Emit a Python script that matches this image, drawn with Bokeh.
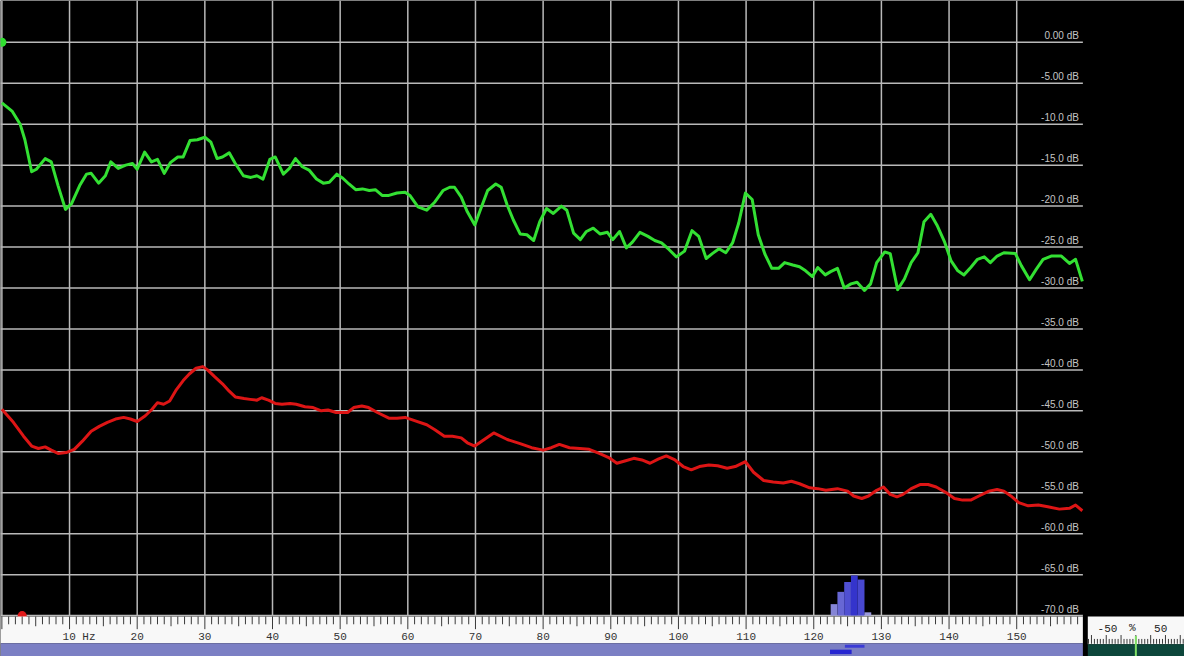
from bokeh.plotting import figure
from bokeh.models import Range1d
from bokeh.core.properties import value
from bokeh.embed import file_html
from bokeh.resources import INLINE

# ---------------- data ----------------
green_hz = [0.0, 1.5, 2.7, 3.4, 4.4, 5.1, 6.4, 7.3, 8.3, 9.4, 10.3, 11.5, 12.5, 13.2, 14.3, 15.3,
            16.1, 17.2, 18.3, 19.3, 20.0, 21.1, 22.1, 23.0, 24.0, 24.9, 26.0, 26.8, 27.8, 28.9,
            30.0, 30.9, 31.8, 32.6, 33.6, 34.5, 35.7, 36.8, 37.7, 38.6, 39.6, 40.4, 41.6, 42.5,
            43.4, 44.4, 45.4, 46.5, 47.5, 48.4, 49.5, 50.4, 51.3, 52.3, 53.3, 54.3, 55.2, 56.2,
            57.2, 58.4, 59.6, 60.3, 61.5, 62.8, 64.0, 65.2, 66.2, 66.9, 67.9, 68.8, 69.9, 70.8,
            71.8, 73.0, 73.8, 74.7, 75.6, 76.6, 77.6, 78.6, 79.5, 80.5, 81.5, 82.7, 83.5, 84.5,
            85.5, 86.4, 87.4, 88.4, 89.5, 90.3, 91.3, 92.3, 93.2, 94.3, 95.5, 96.5, 97.5, 98.6,
            99.7, 100.9, 102.0, 103.0, 104.1, 105.0, 106.0, 107.0, 108.0, 108.9, 109.9, 110.9,
            111.8, 112.8, 113.8, 114.8, 115.7, 116.9, 117.9, 118.8, 119.8, 120.6, 121.7, 122.5,
            123.5, 124.5, 125.5, 126.4, 127.5, 128.4, 129.3, 130.5, 131.3, 132.4, 133.4, 134.4,
            135.4, 136.3, 137.3, 138.2, 139.3, 140.3, 141.3, 142.2, 143.2, 144.2, 145.2, 146.1,
            147.1, 148.1, 149.8, 150.7, 151.9, 152.9, 153.9, 155.1, 156.6, 157.8, 158.7, 159.7]
green_db = [-7.4, -8.4, -10.0, -11.9, -15.8, -15.5, -14.2, -14.6, -17.5, -20.4, -19.7, -17.5, -16.1,
            -16.0, -17.2, -16.3, -14.6, -15.4, -15.0, -14.8, -15.5, -13.4, -14.6, -14.3, -16.0,
            -14.7, -14.0, -14.0, -12.0, -11.9, -11.6, -12.2, -14.2, -14.0, -13.5, -14.8, -16.3,
            -16.5, -16.3, -16.7, -14.3, -14.0, -16.1, -15.4, -14.2, -15.2, -15.6, -16.7, -17.2,
            -17.1, -16.1, -16.6, -17.3, -18.0, -17.9, -18.1, -18.0, -18.7, -18.7, -18.4, -18.3,
            -18.7, -20.1, -20.5, -19.5, -18.1, -17.7, -17.7, -18.9, -20.7, -22.3, -20.3, -18.1,
            -17.3, -17.7, -19.9, -21.7, -23.4, -23.5, -24.2, -21.9, -20.3, -20.9, -20.0, -20.5,
            -23.3, -24.1, -23.1, -22.7, -23.4, -23.2, -24.1, -23.1, -25.1, -24.4, -23.2, -23.7,
            -24.2, -24.5, -25.3, -26.2, -25.5, -23.0, -23.7, -26.4, -25.8, -25.2, -25.7, -24.5,
            -22.1, -18.4, -19.2, -23.5, -25.9, -27.6, -27.6, -26.9, -27.2, -27.4, -27.9, -28.6,
            -27.5, -28.4, -28.0, -27.6, -30.0, -29.5, -29.3, -30.3, -29.5, -26.9, -25.6, -25.8,
            -30.2, -28.9, -26.9, -25.7, -21.9, -21.0, -22.3, -24.3, -26.7, -27.9, -28.4, -27.5,
            -26.5, -26.2, -26.9, -26.1, -25.7, -25.8, -27.3, -29.0, -27.7, -26.5, -26.1, -26.1,
            -27.0, -26.5, -29.2]

red_hz = [0.0, 1.7, 3.2, 4.4, 5.4, 6.4, 7.3, 8.3, 9.5, 10.7, 11.9, 13.2, 14.4, 15.6, 16.8, 18.0,
          19.0, 20.0, 21.2, 22.2, 23.0, 23.9, 24.8, 25.8, 26.8, 27.7, 28.7, 29.7, 30.4, 31.4,
          32.6, 33.6, 34.5, 35.8, 36.7, 37.7, 38.4, 39.4, 40.4, 41.4, 42.6, 43.5, 44.8, 46.0,
          47.2, 48.2, 49.4, 51.1, 52.0, 53.2, 54.2, 55.5, 57.2, 58.4, 59.6, 61.0, 62.8, 64.0,
          65.4, 66.6, 67.9, 68.8, 69.9, 71.3, 72.7, 74.7, 76.6, 78.3, 80.0, 81.2, 82.4, 83.9,
          85.4, 86.8, 88.3, 89.7, 90.9, 92.2, 93.4, 94.6, 95.8, 97.0, 98.2, 99.5, 100.7, 101.9,
          103.1, 104.5, 105.8, 107.2, 108.4, 109.9, 111.1, 112.6, 114.0, 115.5, 116.7, 117.9,
          119.4, 120.6, 121.8, 123.5, 125.0, 125.9, 127.1, 128.1, 129.3, 130.3, 131.3, 132.3,
          133.2, 134.4, 135.7, 136.9, 138.1, 139.6, 140.8, 142.0, 143.2, 144.4, 145.9, 147.1,
          148.1, 149.3, 150.3, 151.7, 153.2, 154.6, 156.3, 157.8, 158.7, 159.7]
red_db = [-44.8, -46.4, -48.1, -49.3, -49.6, -49.4, -49.8, -50.2, -50.1, -49.7, -48.7, -47.5, -46.9,
          -46.4, -46.0, -45.8, -46.0, -46.3, -45.6, -44.8, -44.0, -44.2, -43.8, -42.4, -41.3,
          -40.5, -39.8, -39.6, -40.0, -40.8, -41.7, -42.6, -43.3, -43.5, -43.6, -43.7, -43.4,
          -43.7, -44.1, -44.2, -44.1, -44.2, -44.5, -44.6, -45.0, -44.9, -45.2, -45.2, -44.6,
          -44.4, -44.6, -45.2, -45.9, -45.9, -45.8, -46.2, -46.7, -47.3, -48.1, -48.1, -48.3,
          -48.9, -49.3, -48.5, -47.7, -48.5, -49.0, -49.5, -49.8, -49.5, -49.1, -49.5, -49.6,
          -49.7, -50.2, -50.7, -51.4, -51.1, -50.8, -51.0, -51.4, -50.9, -50.5, -51.0, -51.8,
          -52.2, -51.8, -51.6, -51.7, -52.0, -51.8, -51.2, -52.5, -53.5, -53.7, -53.8, -53.6,
          -53.9, -54.4, -54.5, -54.7, -54.5, -54.8, -55.4, -55.7, -55.4, -54.7, -54.3, -55.2,
          -55.5, -55.2, -54.5, -54.0, -54.0, -54.3, -55.0, -55.7, -55.9, -55.9, -55.4, -54.8,
          -54.6, -54.8, -55.5, -56.2, -56.6, -56.5, -56.7, -57.0, -56.9, -56.5, -57.2]

# histogram bars (peak-hold style) near 125 Hz
bar_hz = [123, 124, 125, 126, 127, 128]
bar_top_db = [-68.6, -67.1, -65.9, -65.1, -65.6, -69.6]
bar_colors = ["#8585d6", "#6767d4", "#5050d2", "#3434cc", "#4848d0", "#9a9ade"]

# markers
green_marker = ([0.0], [0.0])
red_marker = ([3.0], [-70.0])

# axis ticks
db_ticks = [0, -5, -10, -15, -20, -25, -30, -35, -40, -45, -50, -55, -60, -65, -70]
db_labels = ["0.00 dB", "-5.00 dB", "-10.0 dB", "-15.0 dB", "-20.0 dB", "-25.0 dB", "-30.0 dB",
             "-35.0 dB", "-40.0 dB", "-45.0 dB", "-50.0 dB", "-55.0 dB", "-60.0 dB",
             "-65.0 dB", "-70.0 dB"]
hz_grid = [0, 10, 20, 30, 40, 50, 60, 70, 80, 90, 100, 110, 120, 130, 140, 150]
hz_label_ticks = [20, 30, 40, 50, 60, 70, 80, 90, 100, 110, 120, 130, 140, 150]
hz_labels = ["20", "30", "40", "50", "60", "70", "80", "90", "100", "110", "120", "130", "140", "150"]
first_hz_tick, first_hz_label = 10, "10 Hz"

meter_ticks = list(range(-80, 81, 5))
meter_labels = ["-50", "%", "50"]
meter_label_pos = [-48, -6, 42]
meter_value = [0]

# strip trace segments (Hz from, Hz to)
strip_left = [122.4, 124.6]
strip_right = [125.6, 127.5]
strip_colors = ["#2626d2", "#3b3bd6"]

# ---------------- geometry (reference pixel grid) ----------------
REF_W, REF_H = 1200, 672
HZ0_PX, PX_PER_HZ = 1.4, 6.857
DB0_PX, PX_PER_DB = 42.8, 8.39
PLOT_RIGHT_PX = 1097
PLOT_RIGHT_HZ = (PLOT_RIGHT_PX - HZ0_PX) / PX_PER_HZ
LABEL_HZ = (1093 - HZ0_PX) / PX_PER_HZ
METER_ZERO_PX, METER_PX_PER_PCT = 1150.7, 0.6

x_start = (0 - HZ0_PX) / PX_PER_HZ
x_end = (REF_W - HZ0_PX) / PX_PER_HZ
y_start = (DB0_PX - REF_H) / PX_PER_DB
y_end = DB0_PX / PX_PER_DB

p = figure(width=1184, height=656, x_range=Range1d(x_start, x_end), y_range=Range1d(y_start, y_end),
           output_backend="svg", toolbar_location=None, min_border=0,
           x_axis_location=None, y_axis_location=None,
           background_fill_color="black", border_fill_color="black", outline_line_color=None)
p.grid.visible = False
p.extra_x_ranges = {
    "meter": Range1d((0 - METER_ZERO_PX) / METER_PX_PER_PCT, (REF_W - METER_ZERO_PX) / METER_PX_PER_PCT)
}
p.extra_y_ranges = {"px": Range1d(REF_H, 0)}

grid_color = "#b9b9b9"
# horizontal grid
p.segment(x0=[x_start] * len(db_ticks), x1=[PLOT_RIGHT_HZ] * len(db_ticks), y0=db_ticks, y1=db_ticks,
          line_color=grid_color, line_width=1.5)
# vertical grid
p.segment(x0=hz_grid, x1=hz_grid, y0=[-70] * len(hz_grid), y1=[y_end] * len(hz_grid),
          line_color=grid_color, line_width=1.5)

# dB labels
p.text(x=[LABEL_HZ] * len(db_ticks), y=db_ticks, text=db_labels, text_align="right",
       text_baseline="bottom", y_offset=-1, text_font=value("Liberation Sans"),
       text_font_size="10px", text_color="#c4c4c4")

# bars
p.quad(left=[h - 0.5 for h in bar_hz], right=[h + 0.5 for h in bar_hz],
       bottom=[-70] * len(bar_hz), top=bar_top_db, fill_color=bar_colors, line_color=None)

# markers
p.scatter(x=red_marker[0], y=red_marker[1], size=9, fill_color="#e01a1a", line_color=None)
p.scatter(x=green_marker[0], y=green_marker[1], size=9, fill_color="#30e030", line_color=None)

# curves
p.line(red_hz, red_db, line_color="#dd1515", line_width=3, line_join="round")
p.line(green_hz, green_db, line_color="#33e033", line_width=3, line_join="round")

# ---------------- ruler ----------------
p.quad(left=[x_start], right=[PLOT_RIGHT_HZ], top=[631], bottom=[658.5], y_range_name="px",
       fill_color="#f8f8f8", line_color=None)
ruler_ticks = list(range(0, 160))
tick_len = [13 if t % 10 == 0 else (10 if t % 5 == 0 else 8) for t in ruler_ticks]
p.segment(x0=ruler_ticks, x1=ruler_ticks, y0=[631] * len(ruler_ticks),
          y1=[631 + l for l in tick_len], y_range_name="px", line_color="#3a3a3a", line_width=1)
p.text(x=hz_label_ticks, y=[652] * len(hz_label_ticks), text=hz_labels, y_range_name="px",
       text_align="center", text_baseline="middle", text_font=value("Liberation Mono"),
       text_font_size="11px", text_color="#333333")
p.text(x=[first_hz_tick], y=[652], text=[first_hz_label], y_range_name="px", x_offset=-7,
       text_align="left", text_baseline="middle", text_font=value("Liberation Mono"),
       text_font_size="11px", text_color="#333333")

# strip
p.quad(left=[x_start], right=[PLOT_RIGHT_HZ], top=[658.5], bottom=[672], y_range_name="px",
       fill_color="#7b7fc4", line_color=None)
p.quad(left=strip_left, right=strip_right, top=[665, 660], bottom=[669.5, 663], y_range_name="px",
       fill_color=strip_colors, line_color=None)

# ---------------- meter ----------------
m_left = (1102 - METER_ZERO_PX) / METER_PX_PER_PCT
m_right = (REF_W - METER_ZERO_PX) / METER_PX_PER_PCT
p.quad(left=[m_left], right=[m_right], top=[631], bottom=[659.5], x_range_name="meter",
       y_range_name="px", fill_color="#f8f8f8", line_color=None)
p.quad(left=[m_left], right=[m_right], top=[659.5], bottom=[672], x_range_name="meter",
       y_range_name="px", fill_color="#0d463b", line_color=None)
m_len = [9 if t % 25 == 0 else 5 for t in meter_ticks]
p.segment(x0=meter_ticks, x1=meter_ticks, y0=[659 - l for l in m_len], y1=[659] * len(meter_ticks),
          x_range_name="meter", y_range_name="px", line_color="#3a3a3a", line_width=1)
p.text(x=meter_label_pos, y=[643] * 3, text=meter_labels, x_range_name="meter", y_range_name="px",
       text_align="center", text_baseline="middle", text_font=value("Liberation Mono"),
       text_font_size="11px", text_color="#222222")
p.segment(x0=meter_value, x1=meter_value, y0=[651], y1=[672], x_range_name="meter",
          y_range_name="px", line_color="#7fe066", line_width=2)

open("out.html", "w").write(file_html(p, INLINE))
